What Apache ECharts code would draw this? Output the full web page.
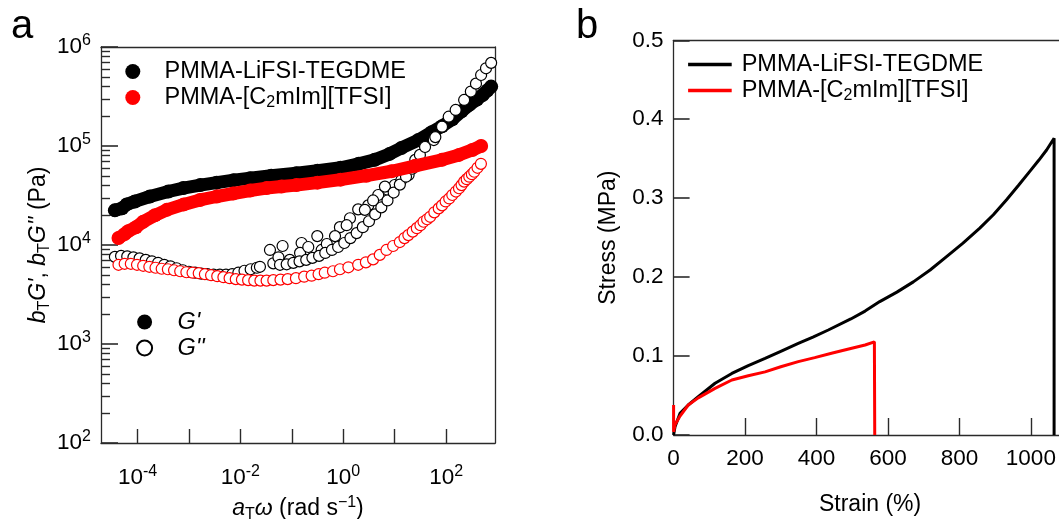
<!DOCTYPE html>
<html><head><meta charset="utf-8">
<script src="https://cdn.jsdelivr.net/npm/echarts@6/dist/echarts.min.js"></script>
<style>html,body{margin:0;padding:0;background:#fff}#c{width:1059px;height:519px}</style>
</head><body><div id="c"></div>
<script>
const FONT = "'Liberation Sans', Arial, sans-serif";

// ---- Panel a: log10(aT*omega [rad/s]) and log10(bT*G [Pa]) ----
const lifsiGpLogW = [-4.44,-4.30,-4.21,-4.05,-3.76,-3.40,-3.11,-2.78,-2.46,-2.13,-1.81,-1.40,-0.91,-0.50,-0.05,0.30,0.61,0.90,1.13,1.46,1.72,1.92,2.12,2.30,2.45,2.60,2.71,2.80,2.875];
const lifsiGpLogG = [4.35,4.37,4.41,4.44,4.49,4.54,4.575,4.605,4.63,4.655,4.675,4.70,4.725,4.75,4.78,4.82,4.86,4.92,4.98,5.06,5.14,5.20,5.27,5.35,5.415,5.47,5.515,5.56,5.60];

const ilGpLogW = [-4.37,-4.25,-4.18,-4.03,-3.89,-3.66,-3.43,-3.10,-2.785,-2.46,-2.14,-1.81,-1.49,-1.20,-0.91,-0.50,-0.05,0.45,0.94,1.40,1.92,2.25,2.51,2.68];
const ilGpLogG = [4.07,4.11,4.14,4.18,4.235,4.30,4.355,4.41,4.455,4.49,4.52,4.55,4.575,4.59,4.605,4.63,4.66,4.70,4.745,4.80,4.86,4.91,4.96,5.00];

const lifsiGppLogW = [-4.44,-4.32,-4.20,-4.08,-3.96,-3.84,-3.72,-3.60,-3.48,-3.36,-3.24,-3.12,-3.00,-2.88,-2.76,-2.64,-2.52,-2.40,-2.28,-2.16,-2.04,-1.92,-1.80,-1.68,
  -1.62,-1.425,-1.18,-0.81,-0.505,-0.065,0.13,0.29,0.486,0.68,0.87,1.00,1.13,1.27,
  -1.36,-1.26,-1.04,-0.84,-0.68,-0.42,-0.32,-0.16,0.066,0.42,0.58,0.81,
  -1.23,-1.10,-0.97,-0.85,-0.72,-0.60,-0.47,-0.35,-0.22,-0.10,0.02,0.14,0.26,0.38,0.50,0.62,0.74,0.86,0.98,1.10,1.22,1.34,
  1.40,1.49,1.59,1.76,1.79,1.92,2.05,2.185,2.35,2.48,2.58,2.68,2.775,2.875];
const lifsiGppLogG = [3.88,3.89,3.885,3.875,3.865,3.85,3.835,3.82,3.80,3.785,3.765,3.745,3.73,3.72,3.71,3.705,3.70,3.70,3.70,3.705,3.72,3.74,3.755,3.77,
  3.78,3.95,3.99,4.02,4.09,4.18,4.27,4.36,4.40,4.505,4.555,4.606,4.657,4.707,
  3.815,3.876,3.85,3.92,3.98,3.95,4.01,4.09,4.20,4.355,4.45,4.59,
  3.80,3.805,3.82,3.835,3.85,3.87,3.89,3.92,3.95,3.98,4.02,4.07,4.12,4.18,4.24,4.31,4.38,4.45,4.53,4.61,4.69,4.77,
  4.86,4.91,4.99,5.06,5.09,5.195,5.296,5.364,5.465,5.55,5.63,5.717,5.785,5.84];

const ilGppLogW = [-4.37,-4.25,-4.13,-4.01,-3.89,-3.77,-3.65,-3.53,-3.41,-3.29,-3.17,-3.05,-2.93,-2.81,-2.69,-2.57,-2.45,-2.33,-2.21,-2.09,-1.97,-1.85,-1.73,-1.61,-1.49,-1.36,-1.22,-1.08,-0.92,-0.76,-0.615,-0.48,-0.36,-0.20,-0.065,0.10,0.29,0.44,0.58,0.71,0.84,0.97,1.10,1.19,1.265,1.35,1.43,1.50,1.56,1.63,1.69,1.77,1.856,1.92,1.99,2.06,2.12,2.19,2.25,2.30,2.35,2.40,2.45,2.50,2.546,2.61,2.676];
const ilGppLogG = [3.80,3.81,3.81,3.80,3.79,3.78,3.77,3.76,3.755,3.745,3.735,3.725,3.72,3.715,3.705,3.695,3.685,3.675,3.665,3.655,3.65,3.645,3.64,3.64,3.64,3.645,3.65,3.655,3.665,3.68,3.69,3.705,3.72,3.735,3.755,3.775,3.80,3.825,3.855,3.90,3.95,3.99,4.03,4.07,4.10,4.135,4.17,4.20,4.235,4.26,4.285,4.33,4.37,4.40,4.44,4.47,4.505,4.54,4.573,4.605,4.64,4.665,4.69,4.715,4.74,4.78,4.82];

const freqTicks = [1e-4,1e-3,1e-2,1e-1,1,10,100];
const freqLabels = [1e-4,1e-2,1,100];
const modMajor = [1e2,1e3,1e4,1e5,1e6];
const modMinor = [200,300,400,500,600,700,800,900,2000,3000,4000,5000,6000,7000,8000,9000,
  20000,30000,40000,50000,60000,70000,80000,90000,200000,300000,400000,500000,600000,700000,800000,900000];

// ---- Panel b: strain (%) and stress (MPa) ----
const lifsiStrain = [0,4,18,41,69,116,163,209,256,300,349,390,433,496,536,577,625,671,718,764,810,857,895,932,965,997,1022,1044,1065,1065];
const lifsiStress = [0,0.0105,0.0275,0.038,0.0485,0.0655,0.078,0.088,0.097,0.106,0.116,0.124,0.133,0.147,0.157,0.169,0.181,0.194,0.209,0.226,0.243,0.262,0.279,0.298,0.316,0.334,0.348,0.361,0.376,0];
const ilStrain = [0,0,4,18,41,69,116,163,209,256,300,349,395,442,490,536,562,563];
const ilStress = [0.038,0.004,0.013,0.024,0.038,0.047,0.059,0.0697,0.075,0.080,0.0865,0.093,0.098,0.1035,0.109,0.114,0.118,0];
const strainTicks = [0,200,400,600,800,1000];
const stressTicks = [0,0.1,0.2,0.3,0.4,0.5];

const NAME_LI = 'PMMA-LiFSI-TEGDME';
const NAME_IL = 'PMMA-[C2mIm][TFSI]';

const pow = a => Math.pow(10, a);
const zipLog = (xs, ys) => xs.map((x, i) => [pow(x), pow(ys[i])]);
const zip = (xs, ys) => xs.map((x, i) => [x, ys[i]]);

const AX = '#2a2a2a';
const TICK_FS = 22.5, NAME_FS = 23, LEG_FS = 23.5;
const supRich = {
  b: {fontSize: TICK_FS, fontFamily: FONT, color: '#000', lineHeight: 28},
  s: {fontSize: 16, fontFamily: FONT, color: '#000', verticalAlign: 'top', lineHeight: 11}
};
const powFmt = v => '{b|10}{s|' + Math.round(Math.log10(v)) + '}';
const mkRich = fs => ({
  sub: {fontSize: 16, fontFamily: FONT, color: '#000', verticalAlign: 'bottom', lineHeight: 12},
  i: {fontSize: fs, fontFamily: FONT, color: '#000', fontStyle: 'italic'},
  sup: {fontSize: 16, fontFamily: FONT, color: '#000', verticalAlign: 'top', lineHeight: 11}
});
const frameAxis = (grid, pos) => ({
  type: 'value', gridIndex: grid, position: pos, min: 0, max: 1,
  axisLine: {show: true, onZero: false, lineStyle: {color: AX, width: 1.3}},
  axisTick: {show: false}, axisLabel: {show: false}, splitLine: {show: false}
});

const chart = echarts.init(document.getElementById('c'), null, {renderer: 'canvas'});
chart.setOption({
  animation: false,
  backgroundColor: '#fff',
  textStyle: {fontFamily: FONT},
  title: [
    {text: 'a', left: 11, top: 7, padding: 0, textStyle: {fontSize: 40, fontWeight: 'normal', fontFamily: FONT, color: '#000', lineHeight: 40}},
    {text: 'b', left: 576, top: 7, padding: 0, textStyle: {fontSize: 40, fontWeight: 'normal', fontFamily: FONT, color: '#000', lineHeight: 40}}
  ],
  legend: [
    {
      data: [{name: NAME_LI, icon: 'circle'}, {name: NAME_IL, icon: 'circle'}],
      orient: 'vertical', left: 125.3, top: 58.5, itemWidth: 53.4, itemHeight: 15, itemGap: 0, padding: 0,
      selectedMode: false,
      formatter: n => n.replace('C2', 'C{sub|2}'),
      textStyle: {fontSize: LEG_FS, fontFamily: FONT, color: '#000', lineHeight: 26, rich: mkRich(LEG_FS)}
    },
    {
      data: [{name: "G'", icon: 'circle'}, {name: "G''", icon: 'circle'}],
      orient: 'vertical', left: 136.1, top: 309, itemWidth: 55.6, itemHeight: 15, itemGap: 0, padding: 0,
      selectedMode: false,
      formatter: n => '{i|' + n + '}',
      itemStyle: {opacity: 1},
      textStyle: {fontSize: LEG_FS, fontFamily: FONT, color: '#000', lineHeight: 26, rich: mkRich(LEG_FS)}
    },
    {
      data: [{name: NAME_LI, icon: 'rect'}, {name: NAME_IL, icon: 'rect'}],
      orient: 'vertical', left: 688.1, top: 51.5, itemWidth: 43.6, itemHeight: 3.5, itemGap: 0, padding: 0,
      selectedMode: false,
      formatter: n => n.replace('C2', 'C{sub|2}'),
      textStyle: {fontSize: LEG_FS, fontFamily: FONT, color: '#000', lineHeight: 26, padding: [0, 0, 0, 5], rich: mkRich(LEG_FS)}
    }
  ],
  grid: [
    {left: 101, top: 47, width: 394, height: 396, show: false, containLabel: false, outerBoundsMode: 'none'},
    {left: 673.6, top: 40.3, width: 393, height: 394.7, show: false, containLabel: false, outerBoundsMode: 'none'}
  ],
  xAxis: [
    {
      type: 'log', gridIndex: 0, logBase: 10, min: pow(-4.71), max: pow(2.95), position: 'bottom',
      axisLine: {show: true, lineStyle: {color: AX, width: 1.3}},
      axisTick: {show: true, inside: true, length: 14, customValues: freqTicks, lineStyle: {color: AX, width: 1.4}},
      axisLabel: {customValues: freqLabels, formatter: powFmt, rich: supRich, margin: 21},
      splitLine: {show: false}, minorTick: {show: false},
      name: '{i|a}{sub|T}{i|ω} (rad s{sup|−1})', nameLocation: 'middle', nameGap: 49,
      nameTextStyle: {fontSize: NAME_FS, fontFamily: FONT, color: '#000', lineHeight: 28, rich: mkRich(NAME_FS)}
    },
    {
      type: 'value', gridIndex: 1, min: 0, max: 1100, position: 'bottom',
      axisLine: {show: true, onZero: false, lineStyle: {color: AX, width: 1.3}},
      axisTick: {show: true, inside: true, length: 17, customValues: strainTicks, lineStyle: {color: AX, width: 1.4}},
      axisLabel: {customValues: strainTicks, fontSize: TICK_FS, fontFamily: FONT, color: '#000', margin: 12, formatter: v => String(v)},
      splitLine: {show: false},
      name: 'Strain (%)', nameLocation: 'middle', nameGap: 57,
      nameTextStyle: {fontSize: NAME_FS, fontFamily: FONT, color: '#000', lineHeight: 26}
    },
    frameAxis(0, 'top'),
    frameAxis(1, 'top')
  ],
  yAxis: [
    {
      type: 'log', gridIndex: 0, logBase: 10, min: 100, max: 1e6, position: 'left',
      axisLine: {show: true, lineStyle: {color: AX, width: 1.3}},
      axisTick: {show: true, inside: true, length: 17, customValues: modMajor, lineStyle: {color: AX, width: 1.6}},
      axisLabel: {customValues: modMajor, formatter: powFmt, rich: supRich, margin: 10},
      splitLine: {show: false}, minorTick: {show: false},
      name: "{i|b}{sub|T}{i|G'}, {i|b}{sub|T}{i|G''} (Pa)", nameLocation: 'middle', nameGap: 48, nameRotate: 90,
      nameTextStyle: {fontSize: NAME_FS, fontFamily: FONT, color: '#000', lineHeight: 28, rich: mkRich(NAME_FS)}
    },
    {
      type: 'log', gridIndex: 0, logBase: 10, min: 100, max: 1e6, position: 'left',
      axisLine: {show: false},
      axisTick: {show: true, inside: true, length: 9, customValues: modMinor, lineStyle: {color: AX, width: 1.4}},
      axisLabel: {show: false}, splitLine: {show: false}
    },
    {
      type: 'value', gridIndex: 1, min: 0, max: 0.5, position: 'left',
      axisLine: {show: true, onZero: false, lineStyle: {color: AX, width: 1.3}},
      axisTick: {show: true, inside: true, length: 16, customValues: stressTicks, lineStyle: {color: AX, width: 1.6}},
      axisLabel: {customValues: stressTicks, fontSize: TICK_FS, fontFamily: FONT, color: '#000', margin: 10, formatter: v => v.toFixed(1)},
      splitLine: {show: false},
      name: 'Stress (MPa)', nameLocation: 'middle', nameGap: 52, nameRotate: 90,
      nameTextStyle: {fontSize: NAME_FS, fontFamily: FONT, color: '#000', lineHeight: 26}
    },
    frameAxis(0, 'right'),
    frameAxis(1, 'right')
  ],
  series: [
    {
      name: NAME_LI, type: 'line', xAxisIndex: 0, yAxisIndex: 0, data: zipLog(lifsiGpLogW, lifsiGpLogG),
      symbol: 'circle', symbolSize: 14, showSymbol: true, color: '#000',
      lineStyle: {width: 13, color: '#000', cap: 'round', join: 'round'}, itemStyle: {color: '#000', opacity: 1}, z: 2
    },
    {
      name: 'lifsiGpp', type: 'scatter', xAxisIndex: 0, yAxisIndex: 0, data: zipLog(lifsiGppLogW, lifsiGppLogG),
      symbol: 'circle', symbolSize: 11, itemStyle: {color: '#fff', borderColor: '#000', borderWidth: 1.2, opacity: 1}, z: 3
    },
    {
      name: NAME_IL, type: 'line', xAxisIndex: 0, yAxisIndex: 0, data: zipLog(ilGpLogW, ilGpLogG),
      symbol: 'circle', symbolSize: 14, showSymbol: true, color: '#ff0000',
      lineStyle: {width: 13, color: '#ff0000', cap: 'round', join: 'round'}, itemStyle: {color: '#ff0000', opacity: 1}, z: 4
    },
    {
      name: 'ilGpp', type: 'scatter', xAxisIndex: 0, yAxisIndex: 0, data: zipLog(ilGppLogW, ilGppLogG),
      symbol: 'circle', symbolSize: 11, itemStyle: {color: '#fff', borderColor: '#ff0000', borderWidth: 1.2, opacity: 1}, z: 5
    },
    {name: "G'", type: 'scatter', xAxisIndex: 0, yAxisIndex: 0, data: [], itemStyle: {color: '#000', opacity: 1}},
    {name: "G''", type: 'scatter', xAxisIndex: 0, yAxisIndex: 0, data: [], itemStyle: {color: '#fff', borderColor: '#000', borderWidth: 1.2, opacity: 1}},
    {
      name: NAME_LI, type: 'line', xAxisIndex: 1, yAxisIndex: 2, data: zip(lifsiStrain, lifsiStress),
      symbol: 'none', color: '#000', lineStyle: {width: 3, color: '#000'}, z: 2
    },
    {
      name: NAME_IL, type: 'line', xAxisIndex: 1, yAxisIndex: 2, data: zip(ilStrain, ilStress),
      symbol: 'none', color: '#ff0000', lineStyle: {width: 3, color: '#ff0000'}, z: 3
    }
  ]
});
</script></body></html>
